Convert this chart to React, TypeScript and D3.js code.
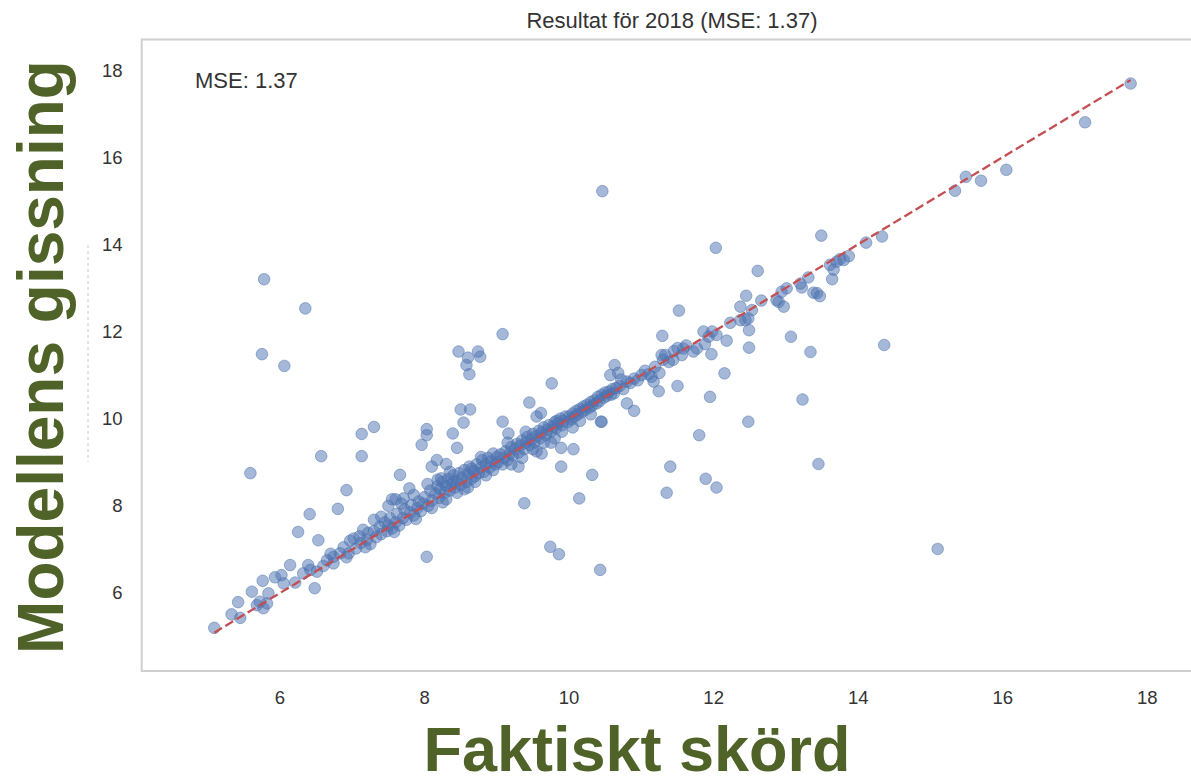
import React from 'react';
import * as d3 from 'd3';

const xTickValues = [6, 8, 10, 12, 14, 16, 18];
const yTickValues = [6, 8, 10, 12, 14, 16, 18];
const chartTitle = 'Resultat för 2018 (MSE: 1.37)';
const mseLabel = 'MSE: 1.37';
const xLabel = 'Faktiskt skörd';
const yLabel = 'Modellens gissning';

// [actual, predicted]
const lowBand: [number, number][] = [
  [5.09,5.20],[5.33,5.51],[5.45,5.43],[5.42,5.79],[5.61,6.03],[5.76,6.28],[5.68,5.72],[5.72,5.80],[5.82,5.76],[5.84,5.99],[5.77,5.65],[5.93,6.36],[6.02,6.41],[6.05,6.22],[6.14,6.64],[6.21,6.24],[6.32,6.45],[6.39,6.64],[6.42,6.53],[6.51,6.49],[6.74,6.83],[6.74,6.68],[6.83,6.91],[6.95,6.91],[6.65,6.75],[6.70,6.90],[6.88,7.05],[6.92,6.82],[6.53,7.21],[6.60,6.62],[6.97,7.20],
];
const band7to8: [number, number][] = [
  [7.02,7.25],[7.05,7.02],[7.10,7.30],[7.12,7.15],[7.15,7.45],[7.20,7.22],[7.22,7.38],[7.25,7.12],[7.30,7.42],[7.33,7.28],[7.38,7.52],[7.40,7.35],[7.45,7.62],[7.48,7.42],[7.50,7.55],[7.52,7.72],[7.55,7.48],[7.60,7.62],[7.62,7.82],[7.65,7.55],[7.70,7.72],[7.72,7.92],[7.75,7.68],[7.80,7.85],[7.82,8.02],[7.85,7.78],[7.90,7.95],[7.92,8.10],[7.95,7.88],[7.98,8.05],[7.40,7.75],[7.60,8.15],[7.68,8.05],[7.85,8.25],[7.50,8.00],[7.30,7.68],[7.18,7.05],[7.58,7.40],[7.88,7.70],
];
const band8to9: [number, number][] = [
  [8.00,8.20],[8.05,8.00],[8.08,8.35],[8.10,8.12],[8.15,8.28],[8.18,8.45],[8.20,8.18],[8.22,8.38],[8.25,8.55],[8.28,8.30],[8.30,8.45],[8.33,8.62],[8.35,8.35],[8.38,8.50],[8.40,8.70],[8.42,8.42],[8.45,8.58],[8.48,8.75],[8.50,8.48],[8.52,8.65],[8.55,8.82],[8.58,8.55],[8.60,8.72],[8.62,8.90],[8.65,8.62],[8.68,8.80],[8.70,8.68],[8.72,8.95],[8.75,8.75],[8.78,8.88],[8.80,9.05],[8.82,8.78],[8.85,8.95],[8.88,9.10],[8.90,8.88],[8.92,9.02],[8.95,9.20],[8.98,8.95],[8.10,7.95],[8.30,8.15],[8.45,8.30],[8.60,8.42],[8.70,8.55],[8.85,8.70],[8.55,8.38],[8.25,8.08],[8.95,8.82],[8.40,8.55],[8.65,8.85],[8.78,9.12],[8.18,8.60],[8.35,8.78],
];
const band9to10: [number, number][] = [
  [9.00,9.12],[9.02,9.00],[9.05,9.18],[9.08,8.95],[9.10,9.10],[9.12,9.25],[9.15,9.05],[9.18,9.20],[9.20,9.35],[9.22,9.15],[9.25,9.30],[9.28,9.42],[9.30,9.22],[9.32,9.38],[9.35,9.50],[9.38,9.30],[9.40,9.45],[9.42,9.58],[9.45,9.40],[9.48,9.52],[9.50,9.65],[9.52,9.45],[9.55,9.60],[9.58,9.72],[9.60,9.55],[9.62,9.68],[9.65,9.80],[9.68,9.62],[9.70,9.75],[9.72,9.85],[9.75,9.70],[9.78,9.82],[9.80,9.92],[9.82,9.78],[9.85,9.90],[9.88,10.00],[9.90,9.85],[9.92,9.95],[9.95,10.05],[9.98,9.92],[9.20,8.95],[9.35,9.10],[9.50,9.30],[9.65,9.45],[9.80,9.55],[9.90,9.70],[9.30,8.90],[9.55,9.25],[9.15,9.45],[9.40,9.70],[9.61,10.13],[9.83,9.95],[9.55,10.05],[9.89,9.33],[9.75,9.45],[9.62,9.20],
];
const band10to11: [number, number][] = [
  [10.00,10.05],[10.03,9.98],[10.05,10.12],[10.08,10.05],[10.10,10.18],[10.12,10.10],[10.15,10.22],[10.18,10.15],[10.20,10.28],[10.22,10.20],[10.25,10.32],[10.28,10.25],[10.30,10.38],[10.32,10.30],[10.35,10.42],[10.38,10.35],[10.40,10.50],[10.42,10.40],[10.45,10.55],[10.48,10.48],[10.50,10.60],[10.52,10.52],[10.55,10.62],[10.58,10.55],[10.60,10.68],[10.62,10.58],[10.65,10.70],[10.70,10.75],[10.75,10.68],[10.80,10.85],[10.85,10.82],[10.90,10.92],[10.95,10.88],[11.00,11.00],[10.05,9.80],[10.15,9.95],[10.30,10.10],[10.63,11.23],[10.57,11.00],[10.80,10.35],[10.90,10.18],[10.44,9.93],[10.72,10.90],[10.68,11.05],
];
const band11to14: [number, number][] = [
  [11.05,11.10],[11.10,11.02],[11.14,10.96],[11.17,10.85],[11.19,11.19],[11.25,11.05],[11.28,11.46],[11.33,11.46],[11.30,11.35],[11.38,11.30],[11.44,11.35],[11.45,11.55],[11.50,11.62],[11.56,11.46],[11.58,11.61],[11.62,11.68],[11.72,11.54],[11.77,11.61],[11.86,12.00],[11.93,11.88],[11.88,11.71],[11.98,12.00],[12.04,11.92],[12.23,12.20],[12.37,12.26],[12.44,12.26],[12.48,12.30],[12.53,12.49],[12.45,12.82],[12.37,12.57],[12.66,12.71],[12.87,12.72],[12.97,12.57],[12.90,12.68],[13.01,12.99],[12.94,12.91],[13.22,13.01],[13.20,13.10],[13.31,13.24],[13.38,12.89],[13.43,12.88],[13.47,12.81],[13.64,13.20],[13.61,13.53],[13.70,13.60],[13.80,13.64],[13.87,13.73],[13.66,13.42],[13.75,13.66],[14.11,14.04],[14.33,14.18],
];
const highBand: [number, number][] = [
  [15.34,15.23],[15.49,15.55],[15.70,15.46],[16.05,15.71],[17.14,16.80],[17.77,17.69],
];
const outliers: [number, number][] = [
  [5.78,13.20],[6.35,12.53],[5.75,11.48],[6.06,11.21],[5.59,8.75],[6.57,9.14],[7.13,9.65],[7.30,9.81],[7.13,9.14],[6.92,8.36],[6.25,7.40],[6.41,7.81],[6.80,7.93],[6.48,6.11],[8.03,6.83],[9.08,11.94],[8.47,11.54],[8.74,11.54],[8.77,11.42],[8.60,11.40],[8.58,11.23],[8.62,11.02],[9.45,10.37],[8.50,10.21],[8.63,10.21],[8.54,9.91],[9.08,9.93],[9.16,9.66],[8.03,9.76],[8.03,9.62],[7.96,9.40],[8.39,9.66],[8.45,9.33],[8.17,9.05],[8.10,8.90],[8.30,8.96],[7.66,8.71],[7.79,8.40],[8.04,8.50],[8.23,8.63],[7.55,8.15],[7.71,8.17],[9.76,10.81],[10.46,15.22],[9.74,7.06],[9.86,6.89],[10.43,6.53],[9.38,8.06],[10.14,8.17],[10.32,8.71],[9.89,8.90],[11.35,8.30],[11.40,8.90],[11.80,9.62],[11.89,8.62],[12.04,8.42],[12.48,9.93],[15.10,7.01],[13.45,8.96],[13.23,10.44],[14.36,11.69],[13.07,11.88],[13.34,11.53],[12.03,13.92],[12.61,13.39],[13.49,14.20],[12.15,11.04],[11.95,10.50],[11.50,10.75],[11.24,10.63],[11.52,12.48],[11.29,11.90],[12.49,12.03],[12.49,11.63],[12.18,11.79],[11.97,11.48],[10.06,9.30],[10.45,9.93],
];

const W = 1191;
const H = 784;
const POINT = '#4C72B0';
const LINE = '#C44E52';
const GREEN = '#4F6228';
const TEXT = '#333333';

export default function App() {
  const x = d3.scaleLinear().domain([4.086, 18.73]).range([141.7, 1200]);
  const y = d3.scaleLinear().domain([4.21, 18.7]).range([671, 39.5]);
  const points = [
    ...lowBand, ...band7to8, ...band8to9, ...band9to10, ...band10to11, ...band11to14, ...highBand, ...outliers,
  ];
  const [mn, mx] = d3.extent(points, (d) => d[0]) as [number, number];
  const diag = d3.line<[number, number]>().x((d) => x(d[0])).y((d) => y(d[1]))([[mn, mn], [mx, mx]]) || '';
  const [x0, x1] = x.range();
  const [y0, y1] = y.range();

  return (
    <svg width={W} height={H} style={{ position: 'absolute', left: 0, top: 0 }} fontFamily="'Liberation Sans', Arial, sans-serif">
      <rect x={0} y={0} width={W} height={H} fill="#ffffff" />
      <rect x={x0} y={y1} width={x1 - x0 + 10} height={y0 - y1} fill="none" stroke="#cfcfcf" strokeWidth={2} />
      <line x1={88} x2={88} y1={245} y2={462} stroke="#c8c8c8" strokeWidth={1} strokeDasharray="3,3" />
      <g>
        {points.map((d, i) => (
          <circle key={i} cx={x(d[0])} cy={y(d[1])} r={5.8} fill={POINT} fillOpacity={0.5} stroke={POINT} strokeOpacity={0.5} strokeWidth={1} />
        ))}
      </g>
      <path d={diag} fill="none" stroke={LINE} strokeWidth={2.3} strokeDasharray="9,4" />
      <g fill={TEXT} fontSize={18.5}>
        {xTickValues.map((t) => (
          <text key={'x' + t} x={x(t)} y={704} textAnchor="middle">{t}</text>
        ))}
        {yTickValues.map((t) => (
          <text key={'y' + t} x={122.5} y={y(t) + 6.5} textAnchor="end">{t}</text>
        ))}
      </g>
      <text x={672} y={28} textAnchor="middle" fontSize={22} fill={TEXT}>{chartTitle}</text>
      <text x={195} y={88} fontSize={22} fill={TEXT}>{mseLabel}</text>
      <text x={637} y={771} textAnchor="middle" fontSize={63} fontWeight="bold" fill={GREEN}>{xLabel}</text>
      <text transform="translate(63,357) rotate(-90)" textAnchor="middle" fontSize={64} fontWeight="bold" fill={GREEN}>{yLabel}</text>
    </svg>
  );
}
